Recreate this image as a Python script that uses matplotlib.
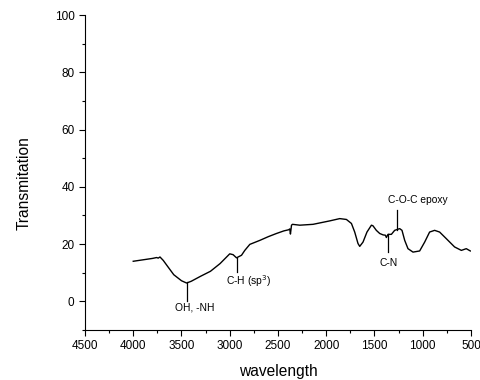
import numpy as np
import matplotlib
matplotlib.use("Agg")
import matplotlib.pyplot as plt

plt.rcParams['font.family'] = ['Liberation Sans', 'DejaVu Sans']

# FTIR spectrum
wavenumber = [4000, 3900, 3800, 3758, 3741, 3723, 3689, 3650, 3580, 3500, 3447, 3400,
              3300, 3200, 3100, 3000, 2965, 2930, 2878, 2844, 2792, 2688, 2600, 2516,
              2440, 2390, 2378, 2371, 2360, 2350, 2274, 2137, 1964, 1860, 1791, 1739,
              1705, 1671, 1653, 1619, 1578, 1532, 1516, 1481, 1446, 1410, 1387, 1377,
              1360, 1325, 1291, 1239, 1215, 1187, 1153, 1101, 1032, 980, 929, 877,
              825, 756, 670, 600, 549, 507]
transmit = [14.0, 14.5, 15.0, 15.3, 15.1, 15.5, 14.3, 12.5, 9.3, 7.2, 6.4, 7.0,
            8.8, 10.5, 13.2, 16.6, 16.3, 15.2, 16.1, 17.8, 19.9, 21.3, 22.6, 23.7,
            24.6, 25.0, 25.3, 23.5, 26.6, 26.9, 26.6, 26.9, 28.1, 28.9, 28.6, 27.2,
            24.2, 20.2, 19.2, 20.7, 24.2, 26.6, 26.4, 24.8, 23.7, 23.2, 23.1, 22.3,
            23.4, 23.4, 24.8, 25.4, 24.8, 21.3, 18.4, 17.2, 17.6, 20.7, 24.2, 24.8,
            24.2, 21.9, 19.0, 17.8, 18.4, 17.6]

# annotations: label, wavenumber, line start, line end, text position
ann_labels = ["OH, -NH", "C-H (sp$^3$)", "C-N", "C-O-C epoxy"]
ann_x = [3440, 2920, 1360, 1265]
ann_line = [(6.6, 0.0), (15.2, 10.2), (23.4, 17.2), (31.8, 25.0)]
ann_text = [(3360, -2.2), (2800, 7.0), (1350, 13.5), (1050, 35.5)]

fig = plt.figure(figsize=(4.81, 3.80), dpi=100)
ax = fig.add_axes([0.1767, 0.1316, 0.8025, 0.8289])

ax.plot(wavenumber, transmit, color='black', lw=1.0)

for lab, x, (y0, y1), (tx, ty) in zip(ann_labels, ann_x, ann_line, ann_text):
    ax.plot([x, x], [y0, y1], color='black', lw=0.9)
    ax.text(tx, ty, lab, fontsize=7.4, ha='center', va='center')

ax.set_xlim(4500, 500)
ax.set_ylim(-10, 100)
ax.set_xticks([4500, 4000, 3500, 3000, 2500, 2000, 1500, 1000, 500])
ax.set_xticks(np.arange(4250, 500, -500), minor=True)
ax.set_yticks([0, 20, 40, 60, 80, 100])
ax.set_yticks([-10, 10, 30, 50, 70, 90], minor=True)
ax.spines['top'].set_visible(False)
ax.spines['right'].set_visible(False)
ax.tick_params(which='major', direction='out', length=4, width=0.8, labelsize=8.5)
ax.tick_params(which='minor', direction='out', length=2.5, width=0.8)
ax.set_xlabel("wavelength", fontsize=11.2)
ax.set_ylabel("Transmitation", fontsize=11.2)
ax.xaxis.set_label_coords(0.5, -0.108)
ax.yaxis.set_label_coords(-0.137, 0.467)

fig.savefig("out.png", dpi=100)
